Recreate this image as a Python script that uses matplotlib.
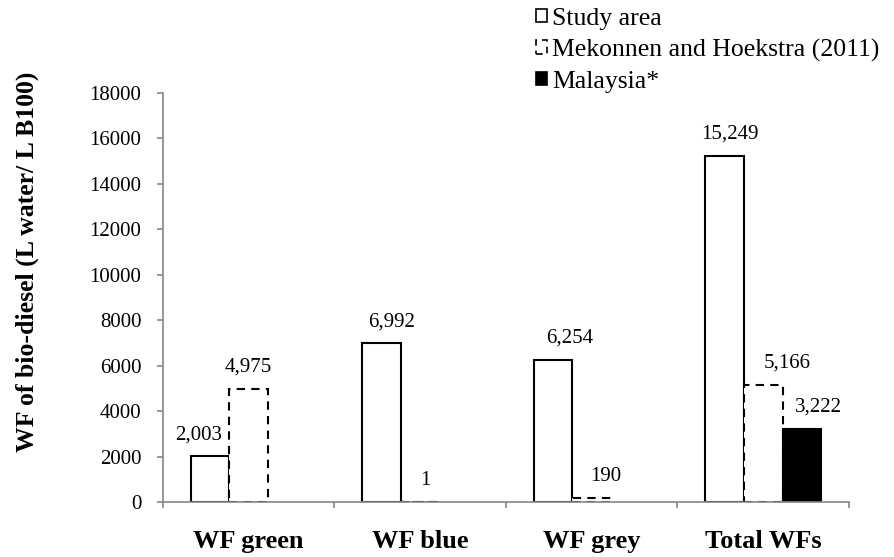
import matplotlib
matplotlib.use("Agg")
import matplotlib.pyplot as plt
from matplotlib.patches import Patch
import numpy as np

plt.rcParams['font.family'] = ['Liberation Serif', 'DejaVu Serif']

# Water footprint components of bio-diesel (L water / L B100)
categories = ["WF green", "WF blue", "WF grey", "Total WFs"]
series_names = ["Study area", "Mekonnen and Hoekstra (2011)", "Malaysia*"]
study_area = [2003, 6992, 6254, 15249]
mekonnen = [4975, 1, 190, 5166]
malaysia = [None, None, None, 3222]
yticks = [0, 2000, 4000, 6000, 8000, 10000, 12000, 14000, 16000, 18000]

fig = plt.figure(figsize=(8.95, 5.57), dpi=100)
ax = fig.add_axes([163 / 895, 1 - 502 / 557, (849 - 163) / 895, (502 - 93) / 557])

x = np.arange(len(categories))
w = 0.225
grey = "#868686"

styles = [
    dict(facecolor="white", edgecolor="black", linestyle="-"),
    dict(facecolor="white", edgecolor="black", linestyle=(0, (4, 3))),
    dict(facecolor="black", edgecolor="black", linestyle="-"),
]
# small horizontal nudges (points) for the value labels
nudges = [
    [-8, 7, 12, 4],
    [0, 4, 10, 17],
    [0, 0, 0, 12],
]

for k, vals in enumerate([study_area, mekonnen, malaysia]):
    for i, v in enumerate(vals):
        if v is None:
            continue
        xc = x[i] + (k - 1) * w
        ax.bar(xc, v, width=w, linewidth=1.5, **styles[k])
        ax.annotate(f"{v:,}", (xc, v), xytext=(nudges[k][i], 15.5),
                    textcoords="offset points", ha="center", va="center",
                    fontsize=15)

ax.set_xlim(-0.5, 3.5)
ax.set_ylim(0, 18000)
ax.set_yticks(yticks)
ax.set_yticklabels([str(t) for t in yticks], fontsize=15)
ax.set_xticks(np.arange(-0.5, 3.6, 1.0))
ax.set_xticklabels([])
ax.set_xticks(x, minor=True)
ax.set_xticklabels(categories, minor=True, fontsize=19, fontweight="bold")
ax.tick_params(axis="x", which="minor", length=0, pad=20)
ax.tick_params(axis="both", which="major", direction="out", length=4.5,
               width=1.2, color=grey)
ax.tick_params(axis="y", pad=11)

for s in ["top", "right"]:
    ax.spines[s].set_visible(False)
for s in ["left", "bottom"]:
    ax.spines[s].set_color(grey)
    ax.spines[s].set_linewidth(1.2)

fig.text(27 / 895, 1 - 262 / 557, "WF of bio-diesel (L water/ L B100)",
         rotation=90, ha="center", va="center", fontsize=18.5, fontweight="bold")

handles = [Patch(linewidth=1.2, **styles[k]) for k in range(3)]
fig.legend(handles, series_names, loc="upper left",
           bbox_to_anchor=(533 / 895, 1 - 5 / 557), frameon=False, fontsize=18.5,
           handlelength=0.45, handleheight=0.45, handletextpad=0.2,
           labelspacing=0.35, borderaxespad=0.0, borderpad=0.1)

fig.savefig("out.png", dpi=100)
